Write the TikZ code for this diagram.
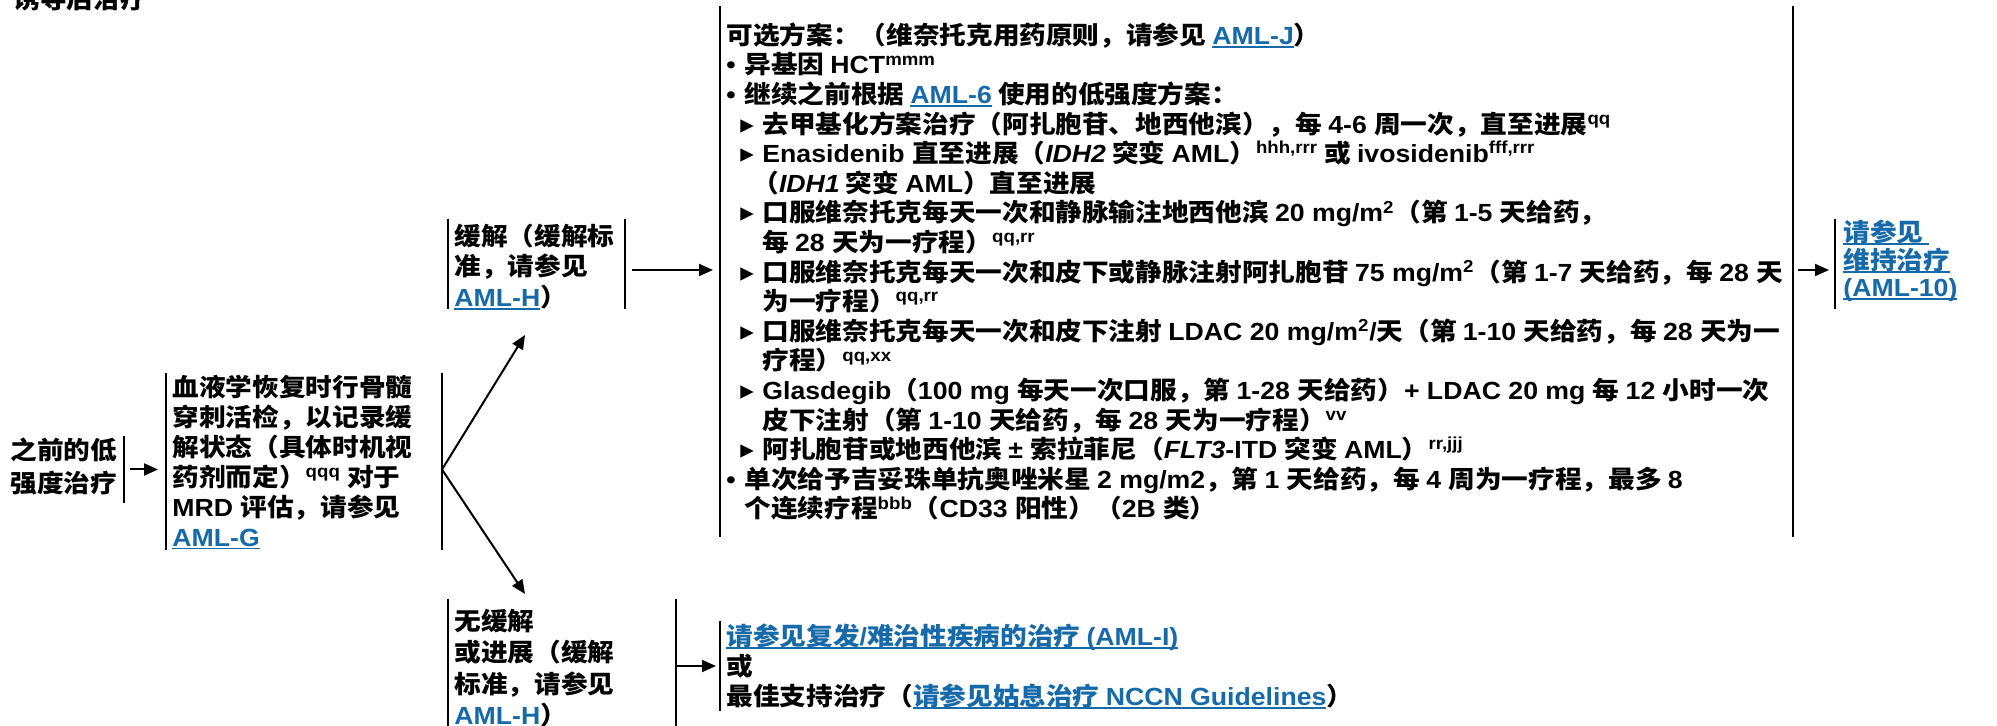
\documentclass[tikz,border=0pt]{standalone}
\usepackage{fontspec}
\setmainfont{Liberation Sans}[FakeStretch=1.075]
\newfontfamily\cjkfam{Noto Sans CJK SC}[FakeStretch=1.075]
\newfontfamily\symfam{DejaVu Sans}
\usetikzlibrary{arrows.meta}
\definecolor{linkblue}{RGB}{22,106,170}
% automatic switching between Latin and CJK fonts
\XeTeXinterchartokenstate=1
\newXeTeXintercharclass\ClsCJK
\newXeTeXintercharclass\ClsSym
\makeatletter
\count@="4E00\relax
\loop\ifnum\count@<"A000\relax \XeTeXcharclass\count@=\ClsCJK \advance\count@ by 1 \repeat
\count@="3000\relax
\loop\ifnum\count@<"3040\relax \XeTeXcharclass\count@=\ClsCJK \advance\count@ by 1 \repeat
\count@="FF00\relax
\loop\ifnum\count@<"FF60\relax \XeTeXcharclass\count@=\ClsCJK \advance\count@ by 1 \repeat
\makeatother
\XeTeXcharclass"25B8=\ClsSym
\XeTeXinterchartoks 0 \ClsCJK = {\cjkfam}
\XeTeXinterchartoks 4095 \ClsCJK = {\cjkfam}
\XeTeXinterchartoks \ClsSym \ClsCJK = {\cjkfam}
\XeTeXinterchartoks \ClsCJK 0 = {\rmfamily}
\XeTeXinterchartoks 4095 0 = {\rmfamily}
\XeTeXinterchartoks \ClsSym 0 = {\rmfamily}
\newsavebox\lnkbox
\newcommand\lnk[1]{\textcolor{linkblue}{\sbox\lnkbox{#1}\rlap{\rule[-1.7pt]{\wd\lnkbox}{0.9pt}}\usebox\lnkbox}}
\newcommand\tri{\hspace*{7pt}\makebox[11pt][l]{\symfam\fontsize{13.5pt}{13.5pt}\selectfont ▸}}
\newcommand\bul{\makebox[9pt][l]{•}}
\newcommand\ind{\hspace*{18pt}}
\newcommand\indb{\hspace*{9pt}}
\newcommand\fstrut{\rule{0pt}{12.4pt}}
\newcommand\fs[1]{\fontsize{12.4pt}{#1}\selectfont\bfseries\lineskiplimit=-30pt\lineskip=0pt}
\tikzset{
  txt/.style={anchor=north west, inner sep=0pt, align=left, font=\fs{#1}, execute at begin node=\fstrut},
  frame/.style={draw=none, inner sep=0pt, outer sep=0pt, anchor=north west},
  bar/.style={line width=1.1pt},
  arr/.style={line width=1pt, -{Triangle[length=7pt,width=6pt]}},
}
\newcommand\frm[5]{\node[frame, minimum width=#4*0.5pt, minimum height=#5*0.5pt] (#1) at (#2,#3) {};}
\begin{document}
\begin{tikzpicture}[x=0.5pt,y=-0.5pt]
\useasboundingbox (0,0) rectangle (1997,726);
% frames
\frm{fA}{6}{436}{118}{67}
\frm{f2}{166}{373}{276}{177}
\frm{f3}{448}{219}{177}{90}
\frm{f4}{720}{6}{1073}{531}
\frm{f5}{1835}{219}{150}{90}
\frm{f6}{448}{599}{228}{150}
\frm{f7}{720}{621}{620}{90}
\draw[bar] (fA.north east) -- (fA.south east);
\draw[bar] (f2.north west) -- (f2.south west);
\draw[bar] (f2.north east) -- (f2.south east);
\draw[bar] (f3.north west) -- (f3.south west);
\draw[bar] (f3.north east) -- (f3.south east);
\draw[bar] (f4.north west) -- (f4.south west);
\draw[bar] (f4.north east) -- (f4.south east);
\draw[bar] (f5.north west) -- (f5.south west);
\draw[bar] (f6.north west) -- (f6.south west);
\draw[bar] (f6.north east) -- (f6.south east);
\draw[bar] (f7.north west) -- (f7.south west);
% texts
\node[txt=13.5pt] (title) at (13,-17) {诱导后治疗};
\node[txt=16.5pt] (tA) at (10,437.2) {之前的低\\强度治疗};
\node[txt=15pt] (t2) at (172,374.2) {血液学恢复时行骨髓\\穿刺活检，以记录缓\\解状态（具体时机视\\药剂而定）\textsuperscript{qqq} 对于\\MRD 评估，请参见\\\lnk{AML-G}};
\node[txt=15.25pt] (t3) at (454,223.7) {缓解（缓解标\\准，请参见\\\lnk{AML-H}）};
\node[txt=14.8pt] (t4) at (726,22.2) {可选方案：（维奈托克用药原则，请参见 \lnk{AML-J}）\\
\bul 异基因 HCT\textsuperscript{mmm}\\
\bul 继续之前根据 \lnk{AML-6} 使用的低强度方案：\\
\tri 去甲基化方案治疗（阿扎胞苷、地西他滨），每 4-6 周一次，直至进展\textsuperscript{qq}\\
\tri Enasidenib 直至进展（\textit{IDH2} 突变 AML）\textsuperscript{hhh,rrr} 或 ivosidenib\textsuperscript{fff,rrr}\\
\hspace*{13pt}（\textit{IDH1} 突变 AML）直至进展\\
\tri 口服维奈托克每天一次和静脉输注地西他滨 20 mg/m\textsuperscript{2}（第 1-5 天给药，\\
\ind 每 28 天为一疗程）\textsuperscript{qq,rr}\\
\tri 口服维奈托克每天一次和皮下或静脉注射阿扎胞苷 75 mg/m\textsuperscript{2}（第 1-7 天给药，每 28 天\\
\ind 为一疗程）\textsuperscript{qq,rr}\\
\tri 口服维奈托克每天一次和皮下注射 LDAC 20 mg/m\textsuperscript{2}/天（第 1-10 天给药，每 28 天为一\\
\ind 疗程）\textsuperscript{qq,xx}\\
\tri Glasdegib（100 mg 每天一次口服，第 1-28 天给药）+ LDAC 20 mg 每 12 小时一次\\
\ind 皮下注射（第 1-10 天给药，每 28 天为一疗程）\textsuperscript{vv}\\
\tri 阿扎胞苷或地西他滨 ± 索拉菲尼（\textit{FLT3}-ITD 突变 AML）\textsuperscript{rr,jjj}\\
\bul 单次给予吉妥珠单抗奥唑米星 2 mg/m2，第 1 天给药，每 4 周为一疗程，最多 8\\
\indb 个连续疗程\textsuperscript{bbb}（CD33 阳性）（2B 类）};
\node[txt=13.75pt] (t5) at (1843,219.7) {\lnk{请参见\hspace{3pt}}\\\lnk{维持治疗}\\\lnk{(AML-10)}};
\node[txt=15.75pt] (t6) at (454,608.7) {无缓解\\或进展（缓解\\标准，请参见\\\lnk{AML-H}）};
\node[txt=15pt] (t7) at (726,623.2) {\lnk{请参见复发/难治性疾病的治疗 (AML-I)}\\或\\最佳支持治疗（\lnk{请参见姑息治疗 NCCN Guidelines}）};
% connectors
\coordinate (up) at (525,335);
\coordinate (dn) at (525,594);
\coordinate (m3) at ([yshift=-3pt]f3.east);
\draw[arr, shorten <=3pt, shorten >=4pt] (fA.east) -- (f2.west |- fA.east);
\draw[arr] (f2.east |- fA.east) -- (up);
\draw[arr] (f2.east |- fA.east) -- (dn);
\draw[arr, shorten <=3.5pt, shorten >=3.5pt] (m3) -- (f4.west |- m3);
\draw[arr, shorten <=2.5pt, shorten >=3pt] (f4.east |- m3) -- (f5.west |- m3);
\draw[arr, shorten >=2pt] (f6.east |- f7.west) -- (f7.west);
\end{tikzpicture}
\end{document}
